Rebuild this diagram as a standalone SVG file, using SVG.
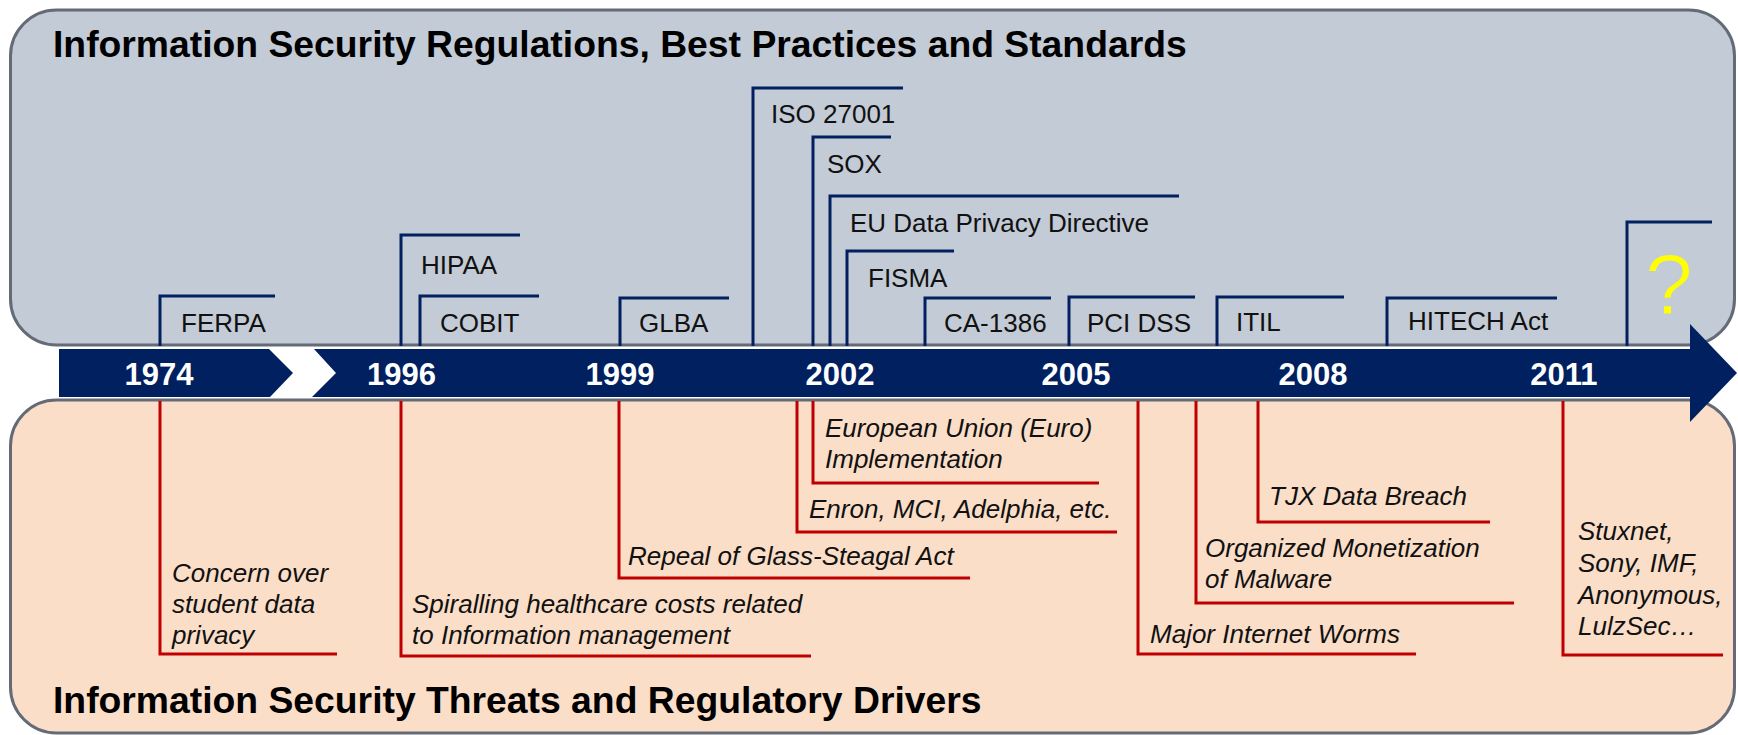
<svg xmlns="http://www.w3.org/2000/svg" width="1738" height="735" viewBox="0 0 1738 735">
  <style>
    .panel { stroke: #646b77; stroke-width: 3; }
    .reg { fill: none; stroke: #002060; stroke-width: 3; }
    .drv { fill: none; stroke: #c00000; stroke-width: 3; }
    .title { font-family: "Liberation Sans", Arial, sans-serif; font-weight: bold; font-size: 37.3px; fill: #000; }
    .year { font-family: "Liberation Sans", Arial, sans-serif; font-weight: bold; font-size: 31px; fill: #fff; text-anchor: middle; }
    .lbl { font-family: "Liberation Sans", Arial, sans-serif; font-size: 26px; fill: #111; }
    .lbl-i { font-family: "Liberation Sans", Arial, sans-serif; font-size: 26px; font-style: italic; fill: #111; }
    /* yellow glyph, slightly trimmed by a panel-coloured stroke */
    .unknown { font-family: "Liberation Sans", Arial, sans-serif; font-size: 86px; fill: #ffff00; stroke: #c3cbd6; stroke-width: 1.2; text-anchor: middle; }
  </style>

  <!-- background panels -->
  <g id="panel-standards">
    <rect class="panel" x="10.5" y="10" width="1724" height="335" rx="46" fill="#c3cbd6"/>
    <text class="title" x="53" y="57">Information Security Regulations, Best Practices and Standards</text>
  </g>
  <g id="panel-drivers">
    <rect class="panel" x="10.5" y="400" width="1724" height="333" rx="46" fill="#fadec8"/>
    <text class="title" x="53" y="713">Information Security Threats and Regulatory Drivers</text>
  </g>

  <!-- timeline arrow -->
  <g id="timeline" fill="#002060">
    <polygon points="59,349 269,349 293,373 270,397 59,397"/>
    <polygon points="314,349 1690,349 1690,324 1737,373 1690,422 1690,397 312,397 336,373"/>
    <text class="year" x="159" y="385">1974</text>
    <text class="year" x="401.5" y="385">1996</text>
    <text class="year" x="620" y="385">1999</text>
    <text class="year" x="840" y="385">2002</text>
    <text class="year" x="1076" y="385">2005</text>
    <text class="year" x="1313" y="385">2008</text>
    <text class="year" x="1564" y="385">2011</text>
  </g>

  <!-- bracket lines joining the timeline to each entry -->
  <g id="connectors">
    <path class="reg" d="M160,346 V296 H275"/>
    <path class="reg" d="M401,346 V235 H520"/>
    <path class="reg" d="M420,346 V296 H539"/>
    <path class="reg" d="M620,346 V298 H729"/>
    <path class="reg" d="M753,346 V88 H903"/>
    <path class="reg" d="M813,346 V137 H891"/>
    <path class="reg" d="M830,346 V196 H1179"/>
    <path class="reg" d="M847,346 V251 H954"/>
    <path class="reg" d="M925,346 V298 H1051"/>
    <path class="reg" d="M1069,346 V297 H1195"/>
    <path class="reg" d="M1217,346 V297 H1344"/>
    <path class="reg" d="M1387,346 V298 H1557"/>
    <path class="reg" d="M1627,346 V222 H1712"/>

    <path class="drv" d="M160,401 V654 H337"/>
    <path class="drv" d="M401,401 V656 H811"/>
    <path class="drv" d="M619,401 V578 H970"/>
    <path class="drv" d="M797,401 V532 H1117"/>
    <path class="drv" d="M813,401 V483 H1099"/>
    <path class="drv" d="M1138,401 V654 H1416"/>
    <path class="drv" d="M1196,401 V603 H1514"/>
    <path class="drv" d="M1258,401 V522 H1490"/>
    <path class="drv" d="M1563,401 V655 H1723"/>
  </g>

  <!-- regulations, best practices and standards -->
  <g id="ferpa"><text class="lbl" x="181" y="332">FERPA</text></g>
  <g id="hipaa"><text class="lbl" x="421" y="274">HIPAA</text></g>
  <g id="cobit"><text class="lbl" x="440" y="332">COBIT</text></g>
  <g id="glba"><text class="lbl" x="639" y="332">GLBA</text></g>
  <g id="iso27001"><text class="lbl" x="771" y="123">ISO 27001</text></g>
  <g id="sox"><text class="lbl" x="827" y="173">SOX</text></g>
  <g id="eu-directive"><text class="lbl" x="850" y="232">EU Data Privacy Directive</text></g>
  <g id="fisma"><text class="lbl" x="868" y="287">FISMA</text></g>
  <g id="ca1386"><text class="lbl" x="944" y="332">CA-1386</text></g>
  <g id="pcidss"><text class="lbl" x="1087" y="332">PCI DSS</text></g>
  <g id="itil"><text class="lbl" x="1236" y="331">ITIL</text></g>
  <g id="hitech"><text class="lbl" x="1408" y="330">HITECH Act</text></g>
  <g id="next"><text class="unknown" x="1669" y="314">?</text></g>

  <!-- threats and regulatory drivers -->
  <g id="student-privacy">
    <text class="lbl-i" x="172" y="582">Concern over</text>
    <text class="lbl-i" x="172" y="613">student data</text>
    <text class="lbl-i" x="172" y="644">privacy</text>
  </g>
  <g id="healthcare-costs">
    <text class="lbl-i" x="412" y="613">Spiralling healthcare costs related</text>
    <text class="lbl-i" x="412" y="644">to Information management</text>
  </g>
  <g id="glass-steagal"><text class="lbl-i" x="628" y="565">Repeal of Glass-Steagal Act</text></g>
  <g id="enron"><text class="lbl-i" x="809" y="518">Enron, MCI, Adelphia, etc.</text></g>
  <g id="euro">
    <text class="lbl-i" x="825" y="437">European Union (Euro)</text>
    <text class="lbl-i" x="825" y="468">Implementation</text>
  </g>
  <g id="worms"><text class="lbl-i" x="1150" y="643">Major Internet Worms</text></g>
  <g id="malware">
    <text class="lbl-i" x="1205" y="557">Organized Monetization</text>
    <text class="lbl-i" x="1205" y="588">of Malware</text>
  </g>
  <g id="tjx"><text class="lbl-i" x="1269" y="505">TJX Data Breach</text></g>
  <g id="hacks">
    <text class="lbl-i" x="1578" y="540">Stuxnet,</text>
    <text class="lbl-i" x="1578" y="572">Sony, IMF,</text>
    <text class="lbl-i" x="1578" y="604">Anonymous,</text>
    <text class="lbl-i" x="1578" y="635">LulzSec…</text>
  </g>
</svg>
